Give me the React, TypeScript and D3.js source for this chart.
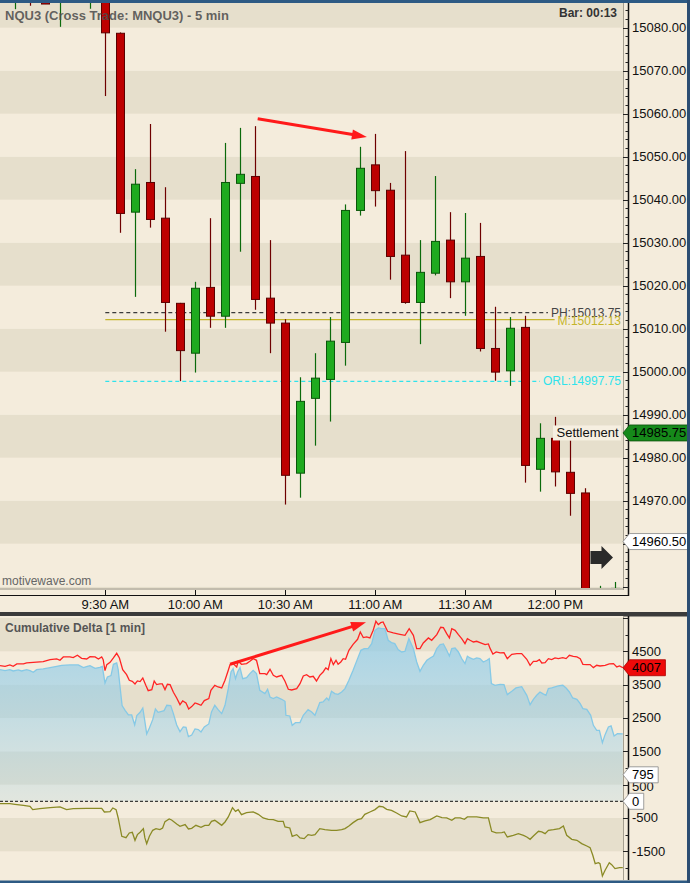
import React from 'react';
import * as d3 from 'd3';

// ---- price bars (5 min) ----
const barTimes = ['9:00', '9:05', '9:10', '9:15', '9:20', '9:25', '9:30', '9:35', '9:40', '9:45', '9:50', '9:55',
  '10:00', '10:05', '10:10', '10:15', '10:20', '10:25', '10:30', '10:35', '10:40', '10:45', '10:50', '10:55',
  '11:00', '11:05', '11:10', '11:15', '11:20', '11:25', '11:30', '11:35', '11:40', '11:45', '11:50', '11:55',
  '12:00', '12:05', '12:10', '12:15', '12:20'];
const barOpen = [15088, 15095, 15092, 15086.5, 15090, 15087, 15095, 15078.7, 15037.1, 15044.0, 15035.7, 15015.9,
  15004.3, 15019.6, 15012.9, 15043.8, 15045.4, 15017.1, 15011.3, 14976.4, 14993.8, 14998.2, 15006.8, 15037.5,
  15048.1, 15042.2, 15027.1, 15016.1, 15022.9, 15030.6, 15020.9, 15026.8, 15005.4, 15000.2, 15010.3, 14977.3,
  14984.5, 14976.6, 14971.8, 14940, 14940];
const barHigh = [15095, 15097, 15094, 15095, 15096, 15098, 15098, 15078.9, 15047.1, 15057.6, 15042.9, 15016.0,
  15020.9, 15035.7, 15053.2, 15056.7, 15057.1, 15030.6, 15012.2, 14998.7, 15004.3, 15012.7, 15038.9, 15052.3,
  15055.3, 15043.9, 15051.3, 15030.6, 15045.5, 15037.1, 15036.9, 15034.6, 15015.1, 15012.7, 15013.0, 14988.0,
  14989.5, 14984.0, 14972.9, 14950.2, 14951.1];
const barLow = [15084.3, 15085.1, 15085.5, 15080.2, 15087, 15084.4, 15064.1, 15032.3, 15017.4, 15033.5, 15009.3, 14997.8,
  14999.8, 15010.2, 15010.2, 15027.9, 15014.4, 15004.3, 14969.1, 14970.7, 14982.8, 14988.4, 15001.4, 15036.3,
  15038.4, 15021.4, 15015.8, 15006.4, 15022.4, 15017.1, 15013.0, 15004.7, 14997.9, 14996.7, 14974.2, 14972.1,
  14973.3, 14966.5, 14940, 14935, 14935];
const barClose = [15092, 15089, 15085.5, 15092, 15092, 15096, 15078.8, 15036.8, 15043.6, 15035.4, 15016.1, 15004.9,
  15019.4, 15012.9, 15044.0, 15045.9, 15016.8, 15011.3, 14975.9, 14993.1, 14998.5, 15007.1, 15037.5, 15047.3,
  15042.1, 15026.8, 15016.1, 15023.1, 15030.3, 15020.9, 15026.4, 15005.4, 14999.9, 15010.1, 14978.2, 14984.5,
  14976.7, 14971.7, 14945, 14945, 14949.6];

// ---- axes ----
const timeTickMinutes = [0, 30, 60, 90, 120, 150]; // minutes after 9:30
const timeTickLabels = ['9:30 AM', '10:00 AM', '10:30 AM', '11:00 AM', '11:30 AM', '12:00 PM'];
const priceTicks = [15080, 15070, 15060, 15050, 15040, 15030, 15020, 15010, 15000, 14990, 14980, 14970, 14960];
const deltaTicks = [4500, 3500, 2500, 1500, 500, -500, -1500];

// ---- levels ----
const levelNames = ['PH', 'M', 'ORL'];
const levelValues = [15013.75, 15012.13, 14997.75];
const levelColors = ['#3a3a3a', '#c4b52a', '#2fe3ec'];
const settlementPrice = 14985.75;
const lastPrice = 14960.50;

// ---- cumulative delta (1 min), [minutes after 9:30, value] ----
const deltaRed: [number, number][] = [[-35.1, 4070], [-33.4, 4050], [-31.8, 4090], [-30.7, 4050], [-29.5, 4120], [-27.3, 4120], [-26.2, 4150], [-24.0, 4170], [-20.7, 4190], [-18.4, 4250], [-16.2, 4270], [-15.1, 4230], [-14.0, 4330], [-11.8, 4330], [-10.7, 4310], [-9.3, 4380], [-7.9, 4290], [-6.2, 4270], [-5.1, 4340], [-3.4, 4330], [-2.3, 4270], [-1.2, 4330], [-0.7, 4250], [-0.1, 3920], [0.5, 4100], [1.6, 4170], [2.7, 4300], [3.8, 4440], [4.7, 4300], [5.8, 3950], [7.1, 3800], [8.0, 3630], [9.0, 3600], [9.9, 3520], [10.7, 3610], [11.6, 3590], [12.5, 3700], [13.5, 3480], [14.3, 3320], [15.5, 3350], [16.3, 3610], [17.1, 3500], [18.2, 3520], [19.0, 3520], [19.9, 3350], [20.7, 3510], [21.6, 3500], [22.7, 3270], [23.8, 3100], [24.9, 2900], [25.8, 3010], [26.9, 2950], [27.8, 2770], [28.8, 2840], [29.9, 2950], [30.8, 2920], [31.9, 2880], [33.0, 3020], [34.5, 3080], [35.2, 3330], [36.5, 3480], [37.6, 3430], [38.8, 3400], [39.9, 3630], [41.0, 3930], [41.6, 4100], [42.6, 4130], [43.8, 4030], [44.3, 4200], [45.4, 4110], [47.1, 4130], [48.2, 4200], [49.3, 4280], [50.4, 4230], [51.5, 3830], [53.2, 3830], [53.8, 3800], [54.9, 3960], [56.0, 3780], [57.1, 3730], [58.8, 3780], [59.9, 3600], [61.0, 3360], [62.1, 3340], [63.8, 3380], [64.9, 3530], [66.0, 3760], [67.1, 3800], [68.2, 3730], [69.3, 3750], [70.4, 3610], [71.5, 3780], [72.6, 3880], [73.5, 4000], [74.3, 3950], [75.2, 4280], [76.0, 4100], [76.9, 4230], [77.6, 4110], [78.5, 4180], [79.3, 4280], [80.1, 4260], [81.2, 4530], [82.6, 4710], [84.1, 4860], [85.0, 5080], [86.0, 4910], [87.1, 4930], [88.2, 4900], [89.3, 5130], [90.2, 5400], [91.0, 5300], [91.8, 5360], [92.6, 5380], [94.1, 5100], [96.0, 5050], [98.2, 5010], [99.9, 4980], [101.3, 5180], [102.7, 4980], [103.8, 4580], [104.9, 4580], [106.0, 4750], [107.7, 4900], [108.8, 4830], [110.5, 5000], [111.8, 5220], [112.7, 5210], [113.8, 5030], [114.7, 4900], [115.5, 5180], [116.6, 5130], [117.7, 5000], [118.8, 4880], [119.9, 4730], [120.7, 4880], [121.6, 4830], [122.7, 4780], [123.8, 4800], [124.9, 4760], [126.6, 4700], [127.7, 4720], [128.3, 4580], [129.2, 4420], [130.3, 4480], [131.6, 4450], [132.9, 4460], [134.0, 4280], [135.5, 4410], [137.2, 4430], [138.8, 4430], [140.5, 4260], [141.6, 4080], [142.7, 4200], [143.8, 4200], [144.7, 4250], [145.5, 4150], [146.6, 4160], [147.7, 4280], [148.8, 4250], [149.9, 4300], [151.0, 4280], [152.5, 4310], [153.6, 4280], [154.7, 4380], [156.0, 4350], [157.2, 4330], [158.3, 4280], [159.2, 4110], [160.5, 4100], [161.6, 4100], [162.7, 4010], [163.8, 4080], [164.9, 4060], [166.6, 4080], [168.0, 4120], [169.4, 4130], [170.5, 4030], [171.4, 4060], [172.5, 4007]];

const deltaBlue: [number, number][] = [[-35.1, 3950], [-33.4, 3920], [-31.8, 3950], [-30.7, 3910], [-29.0, 3940], [-27.9, 3910], [-26.2, 3950], [-25.1, 3920], [-24.0, 3870], [-22.9, 3950], [-20.7, 3970], [-18.4, 4010], [-16.2, 4050], [-14.5, 4080], [-11.8, 4090], [-9.0, 4090], [-7.3, 4010], [-6.0, 4050], [-5.1, 4070], [-3.4, 3990], [-1.8, 4020], [-1.0, 4050], [-0.1, 3550], [0.7, 3730], [1.9, 3770], [2.7, 4110], [3.8, 4150], [4.3, 3950], [4.9, 3450], [5.6, 2870], [6.6, 2730], [7.7, 2590], [8.8, 2590], [9.8, 2290], [10.5, 2570], [11.6, 2670], [12.5, 2800], [13.1, 2450], [13.8, 2020], [14.7, 2200], [15.8, 2450], [16.7, 2770], [17.6, 2670], [18.8, 2700], [19.6, 2720], [20.5, 2880], [21.8, 2870], [22.7, 2630], [23.8, 2290], [24.9, 2090], [26.0, 2230], [26.9, 2220], [27.7, 1940], [28.8, 1990], [29.9, 2170], [31.0, 2150], [31.9, 2080], [33.0, 2230], [34.5, 2320], [35.4, 2680], [36.5, 2880], [37.6, 2750], [38.8, 2630], [39.9, 2880], [41.0, 3380], [41.9, 3880], [42.6, 3980], [43.4, 3680], [44.1, 3880], [44.9, 4010], [45.8, 3680], [47.1, 3710], [48.2, 3830], [49.3, 3930], [50.4, 3830], [51.5, 3330], [53.2, 3230], [54.1, 3360], [54.9, 3130], [56.0, 3080], [57.1, 3130], [58.8, 3060], [59.9, 3000], [60.2, 2580], [61.5, 2560], [62.3, 2280], [63.4, 2360], [64.9, 2360], [66.0, 2580], [67.6, 2750], [68.8, 2680], [69.9, 2580], [71.5, 2960], [72.6, 2980], [73.8, 3100], [74.5, 3030], [75.4, 3300], [76.5, 3230], [77.6, 3210], [78.8, 3280], [79.9, 3380], [81.2, 3630], [82.6, 3930], [84.1, 4280], [85.2, 4530], [86.3, 4580], [87.6, 4580], [88.8, 4730], [89.9, 5130], [91.0, 5200], [92.1, 5180], [93.2, 5180], [94.3, 4830], [95.4, 4760], [96.5, 4730], [97.6, 4550], [98.8, 4480], [99.9, 4500], [101.2, 4880], [102.7, 4580], [103.8, 4180], [104.9, 3900], [106.0, 4080], [107.2, 4230], [108.3, 4300], [109.4, 4360], [110.5, 4580], [111.6, 4700], [112.7, 4720], [113.8, 4530], [114.7, 4360], [115.5, 4580], [116.6, 4600], [117.7, 4480], [118.8, 4280], [119.9, 4130], [120.7, 4350], [121.6, 4300], [122.7, 4260], [123.8, 4300], [124.9, 4280], [126.0, 4180], [127.2, 4230], [128.0, 4280], [128.7, 3530], [129.9, 3480], [131.6, 3510], [132.9, 3500], [134.0, 3200], [135.5, 3300], [136.9, 3400], [138.8, 3440], [140.5, 3180], [141.6, 2900], [142.7, 3060], [143.8, 3180], [144.9, 3280], [145.8, 3230], [146.9, 3180], [147.7, 3380], [148.8, 3400], [149.9, 3430], [151.0, 3460], [152.5, 3480], [153.6, 3400], [154.7, 3280], [155.8, 3100], [157.2, 3060], [158.3, 2930], [159.2, 2780], [160.5, 2760], [161.8, 2580], [162.7, 2280], [163.8, 2130], [164.7, 2130], [165.7, 1760], [166.6, 2000], [167.7, 2230], [168.6, 2260], [169.6, 1960], [170.7, 2030], [172.5, 2020]];

const deltaOlive: [number, number][] = [[-35.1, -70], [-31.8, -70], [-30.1, -90], [-27.3, -120], [-25.1, -150], [-24.2, -250], [-21.8, -220], [-18.4, -190], [-15.1, -170], [-12.9, -250], [-10.7, -220], [-6.2, -210], [-1.2, -210], [-0.3, -320], [1.6, -310], [2.5, -200], [3.6, -250], [4.3, -500], [5.5, -1050], [6.9, -1090], [8.0, -950], [9.0, -930], [9.9, -1170], [10.7, -1000], [11.6, -930], [12.7, -820], [13.2, -1100], [13.8, -1270], [14.7, -1050], [15.8, -870], [16.9, -820], [18.2, -850], [19.1, -800], [19.9, -610], [21.3, -530], [22.1, -560], [23.8, -680], [24.9, -750], [26.6, -700], [27.7, -830], [28.8, -810], [30.2, -720], [31.9, -780], [33.2, -720], [34.5, -720], [35.4, -600], [36.5, -570], [37.6, -640], [38.8, -720], [39.9, -620], [41.0, -470], [42.4, -190], [43.4, -300], [44.3, -250], [45.4, -400], [47.1, -340], [49.3, -320], [51.0, -390], [52.6, -500], [54.3, -540], [56.0, -550], [57.6, -600], [59.3, -600], [59.9, -770], [61.5, -800], [62.3, -1050], [63.8, -1000], [64.9, -1100], [66.3, -1120], [67.6, -1000], [68.8, -1020], [69.9, -1000], [71.5, -820], [73.2, -850], [75.4, -870], [77.1, -870], [78.8, -850], [79.9, -820], [81.2, -740], [82.6, -640], [84.1, -550], [85.4, -520], [86.5, -390], [88.2, -320], [89.9, -250], [91.3, -150], [92.6, -170], [93.8, -240], [95.4, -270], [97.1, -350], [98.8, -440], [100.4, -470], [101.5, -290], [103.3, -320], [104.9, -640], [106.6, -590], [108.3, -550], [110.5, -440], [112.2, -490], [113.8, -500], [115.5, -570], [116.6, -500], [118.3, -500], [119.7, -540], [120.7, -470], [123.8, -470], [126.0, -500], [127.7, -500], [128.8, -900], [130.3, -950], [132.2, -940], [133.0, -920], [134.0, -1070], [136.0, -1020], [137.7, -970], [139.4, -1020], [140.5, -1070], [141.6, -1140], [142.7, -1040], [144.4, -900], [145.5, -920], [146.6, -970], [147.7, -870], [149.4, -850], [151.4, -820], [152.7, -740], [153.8, -1020], [155.5, -1140], [157.2, -1170], [158.8, -1270], [160.5, -1340], [161.6, -1390], [162.5, -1620], [163.3, -1870], [164.4, -1840], [164.9, -1870], [165.7, -2240], [166.6, -2070], [168.0, -1840], [168.8, -1900], [169.9, -2020], [171.4, -1990], [172.5, -1990]];

const deltaTags = [4007, 795, 0];
const deltaTagColors = ['#ee0a0a', '#ffffff', '#ffffff'];

// drawn trend arrows: [minute, value] start -> end
const priceArrow: [number, number][] = [[50.8, 15058.8], [87.2, 15054.6]];
const deltaArrow: [number, number][] = [[41.6, 4110], [86.9, 5370]];

const FONT = '"Liberation Sans", Arial, Helvetica, sans-serif';
const LIGHT = '#f4ecdc';
const DARK = '#e6dfcc';
const PLOT_R = 623;
const AXIS_X = 628.5;

const toMin = (s: string) => {
  const [h, m] = s.split(':').map(Number);
  return h * 60 + m - 570;
};

function measure(text: string, size: number) {
  const c = document.createElement('canvas').getContext('2d');
  if (!c) return text.length * size * 0.55;
  c.font = `${size}px ${FONT}`;
  return c.measureText(text).width;
}

function arrowParts(x1: number, y1: number, x2: number, y2: number, head = 15, half = 5) {
  const a = Math.atan2(y2 - y1, x2 - x1);
  const bx = x2 - head * Math.cos(a), by = y2 - head * Math.sin(a);
  const px = -Math.sin(a) * half, py = Math.cos(a) * half;
  return {
    line: [x1, y1, bx + Math.cos(a) * 2, by + Math.sin(a) * 2],
    head: `M${x2},${y2}L${bx + px},${by + py}L${bx - px},${by - py}Z`,
  };
}

function tagPath(y: number, w: number) {
  return `M${PLOT_R},${y}L${AXIS_X + 1},${y - 8}L${AXIS_X + 1 + w},${y - 8}L${AXIS_X + 1 + w},${y + 8}L${AXIS_X + 1},${y + 8}Z`;
}

export default function App() {
  const x = d3.scaleLinear().domain([-35.1, 172.57]).range([0, PLOT_R]);
  const yP = d3.scaleLinear().domain([14949.23, 15085.74]).range([590, 3]);
  const yD = d3.scaleLinear().domain([-2361, 5559]).range([880, 616]);

  const priceBands = d3.range(14940, 15090, 10);
  const deltaBands = d3.range(-2500, 5600, 1000);
  const minorPrice = d3.range(14950, 15086, 2);
  const minorDelta = d3.range(-2000, 5600, 500);

  const line = d3.line<[number, number]>().x((d) => x(d[0])).y((d) => yD(d[1]));
  const area = d3.area<[number, number]>().x((d) => x(d[0])).y0(yD(0)).y1((d) => yD(d[1]));

  const pa = arrowParts(x(priceArrow[0][0]), yP(priceArrow[0][1]), x(priceArrow[1][0]), yP(priceArrow[1][1]));
  const da = arrowParts(x(deltaArrow[0][0]), yD(deltaArrow[0][1]), x(deltaArrow[1][0]), yD(deltaArrow[1][1]));

  const labelRight = 621;
  const bw = 8;

  const curY = yP(14956.8);
  const curX = x(165.4);

  // axis labels hidden behind the price tags
  const shownPriceTicks = priceTicks.filter((v) =>
    Math.abs(yP(v) - yP(lastPrice)) > 12 && Math.abs(yP(v) - yP(settlementPrice)) > 12);

  return (
    <svg width={690} height={883} style={{ position: 'absolute', left: 0, top: 0, display: 'block' }}
      fontFamily={FONT}>
      <defs>
        <clipPath id="clipP"><rect x={0} y={3} width={PLOT_R} height={587} /></clipPath>
        <clipPath id="clipD"><rect x={0} y={616} width={PLOT_R} height={264} /></clipPath>
        <linearGradient id="blueFill" gradientUnits="userSpaceOnUse" x1={0} x2={0} y1={yD(5500)} y2={yD(0)}>
          <stop offset="0%" stopColor="#8ecbe9" stopOpacity={0.8} />
          <stop offset="100%" stopColor="#8ecbe9" stopOpacity={0.18} />
        </linearGradient>
      </defs>

      <rect x={0} y={0} width={690} height={883} fill={LIGHT} />

      {/* price panel */}
      <g clipPath="url(#clipP)">
        {priceBands.map((v) => (
          <rect key={v} x={0} width={PLOT_R} y={yP(v + 10)} height={yP(v) - yP(v + 10)}
            fill={Math.round((v - 14940) / 10) % 2 === 0 ? DARK : LIGHT} />
        ))}
        {levelNames.map((n, i) => {
          const label = `${n}:${levelValues[i].toFixed(2)}`;
          const w = measure(label, 12);
          return (
            <line key={n} x1={x(0)} x2={labelRight - w - 3} y1={yP(levelValues[i])} y2={yP(levelValues[i])}
              stroke={levelColors[i]} strokeWidth={1.2} strokeDasharray={n === 'M' ? undefined : '4,3'} />
          );
        })}
        {barTimes.map((t, i) => {
          const cx = Math.round(x(toMin(t))) + 0.5;
          const up = barClose[i] >= barOpen[i];
          const top = yP(Math.max(barOpen[i], barClose[i]));
          const bot = yP(Math.min(barOpen[i], barClose[i]));
          return (
            <g key={t}>
              <line x1={cx} x2={cx} y1={yP(barHigh[i])} y2={yP(barLow[i])}
                stroke={up ? '#0b6a0b' : '#6e0000'} strokeWidth={1.2} />
              <rect x={cx - bw / 2} y={top} width={bw} height={Math.max(1, bot - top)}
                fill={up ? '#1faa1f' : '#bd0000'} stroke={up ? '#0a560a' : '#5a0000'} strokeWidth={1} />
            </g>
          );
        })}
        {/* trend arrow */}
        <line x1={pa.line[0]} y1={pa.line[1]} x2={pa.line[2]} y2={pa.line[3]} stroke="#ff1a1a" strokeWidth={3} />
        <path d={pa.head} fill="#ff1a1a" />
        {/* current bar arrow */}
        <path d={`M${curX - 11},${curY - 6.5}L${curX},${curY - 6.5}L${curX},${curY - 11.5}L${curX + 11.5},${curY}L${curX},${curY + 11.5}L${curX},${curY + 6.5}L${curX - 11},${curY + 6.5}Z`}
          fill="#2a2a2a" />
      </g>

      {levelNames.map((n, i) => (
        <text key={n} x={labelRight} y={yP(levelValues[i]) + (n === 'M' ? 1 : 0)} textAnchor="end"
          dominantBaseline="central" fontSize={12} fill={n === 'PH' ? '#444' : levelColors[i]}>
          {`${n}:${levelValues[i].toFixed(2)}`}
        </text>
      ))}

      {/* settlement label */}
      <rect x={553} y={yP(settlementPrice) - 7.5} width={68} height={15} fill="#f6efe1" />
      <text x={556.5} y={yP(settlementPrice)} dominantBaseline="central" fontSize={13} fill="#111">Settlement</text>

      <text x={5} y={20} fontSize={13} fontWeight="bold" fill="#4a4a4a" fillOpacity={0.85}>
        NQU3 (Cross Trade: MNQU3) - 5 min
      </text>
      <text x={617} y={17} fontSize={12} fontWeight="bold" fill="#333" textAnchor="end">Bar: 00:13</text>
      <text x={2} y={585} fontSize={12} fill="#666">motivewave.com</text>

      {/* price panel borders and axis */}
      <line x1={PLOT_R + 0.5} x2={PLOT_R + 0.5} y1={3} y2={590} stroke="#a59f90" strokeWidth={1} />
      <line x1={0} x2={PLOT_R} y1={589} y2={589} stroke="#c2bcad" strokeWidth={2} />
      <line x1={AXIS_X} x2={AXIS_X} y1={3} y2={596} stroke="#111" strokeWidth={1.5} />
      {minorPrice.map((v) => (
        <line key={v} x1={v % 10 === 0 ? PLOT_R : AXIS_X - 3} x2={AXIS_X} y1={Math.round(yP(v)) + 0.5}
          y2={Math.round(yP(v)) + 0.5} stroke="#222" strokeWidth={1} />
      ))}
      {shownPriceTicks.map((v) => (
        <text key={v} x={632} y={yP(v)} dominantBaseline="central" fontSize={13} fill="#111">{v.toFixed(2)}</text>
      ))}
      <path d={tagPath(yP(settlementPrice), 58)} fill="#16891a" stroke="#0b4f0b" strokeWidth={0.8} />
      <text x={632} y={yP(settlementPrice)} dominantBaseline="central" fontSize={13} fill="#000">
        {settlementPrice.toFixed(2)}
      </text>
      <path d={tagPath(yP(lastPrice), 58)} fill="#fff" stroke="#888" strokeWidth={0.8} />
      <text x={632} y={yP(lastPrice)} dominantBaseline="central" fontSize={13} fill="#000">{lastPrice.toFixed(2)}</text>

      {/* time axis */}
      <line x1={0} x2={AXIS_X} y1={595.5} y2={595.5} stroke="#111" strokeWidth={1.2} />
      {timeTickMinutes.map((m, i) => (
        <g key={m}>
          <line x1={Math.round(x(m)) + 0.5} x2={Math.round(x(m)) + 0.5} y1={590} y2={595} stroke="#111" />
          <text x={x(m)} y={604} textAnchor="middle" dominantBaseline="central" fontSize={13} fill="#111">
            {timeTickLabels[i]}
          </text>
        </g>
      ))}

      {/* separator */}
      <rect x={0} y={612} width={690} height={4.5} fill="#3b3b3b" />

      {/* delta panel */}
      <g clipPath="url(#clipD)">
        {deltaBands.map((v) => (
          <rect key={v} x={0} width={PLOT_R} y={yD(v + 1000)} height={yD(v) - yD(v + 1000)}
            fill={(((v + 1500) / 1000) % 2 + 2) % 2 === 0 ? DARK : LIGHT} />
        ))}
        <path d={area(deltaBlue) ?? ''} fill="url(#blueFill)" />
        <path d={line(deltaBlue) ?? ''} fill="none" stroke="#86c9e6" strokeWidth={1.3} />
        <line x1={0} x2={PLOT_R} y1={yD(0)} y2={yD(0)} stroke="#111" strokeWidth={1} strokeDasharray="3,2" />
        <path d={line(deltaOlive) ?? ''} fill="none" stroke="#8a8a25" strokeWidth={1.3} />
        <path d={line(deltaRed) ?? ''} fill="none" stroke="#ff2424" strokeWidth={1.3} />
        <line x1={da.line[0]} y1={da.line[1]} x2={da.line[2]} y2={da.line[3]} stroke="#ff1a1a" strokeWidth={3} />
        <path d={da.head} fill="#ff1a1a" />
      </g>
      <text x={5} y={632} fontSize={12} fontWeight="bold" fill="#555">Cumulative Delta [1 min]</text>

      <line x1={PLOT_R + 0.5} x2={PLOT_R + 0.5} y1={616} y2={880} stroke="#a59f90" strokeWidth={1} />
      <line x1={AXIS_X} x2={AXIS_X} y1={616} y2={880} stroke="#111" strokeWidth={1.5} />
      {minorDelta.map((v) => (
        <line key={v} x1={(v + 500) % 1000 === 0 ? PLOT_R : AXIS_X - 3} x2={AXIS_X} y1={Math.round(yD(v)) + 0.5}
          y2={Math.round(yD(v)) + 0.5} stroke="#222" strokeWidth={1} />
      ))}
      {deltaTicks.map((v) => (
        <text key={v} x={632} y={yD(v) + (v === 500 ? 2 : 0)} dominantBaseline="central" fontSize={13} fill="#111">{v}</text>
      ))}
      {deltaTags.map((v, i) => {
        const w = measure(String(v), 13) + 7;
        return (
          <g key={v}>
            <path d={tagPath(yD(v), w)} fill={deltaTagColors[i]} stroke={i === 0 ? '#a00' : '#888'} strokeWidth={0.8} />
            <text x={632} y={yD(v)} dominantBaseline="central" fontSize={13} fill="#000">{v}</text>
          </g>
        );
      })}

      {/* frame */}
      <rect x={0} y={0} width={690} height={3} fill="#2d5a84" />
      <rect x={0} y={880.5} width={690} height={2.5} fill="#2d5a84" />
      <rect x={687} y={0} width={3} height={883} fill="#2b4d72" />
    </svg>
  );
}
